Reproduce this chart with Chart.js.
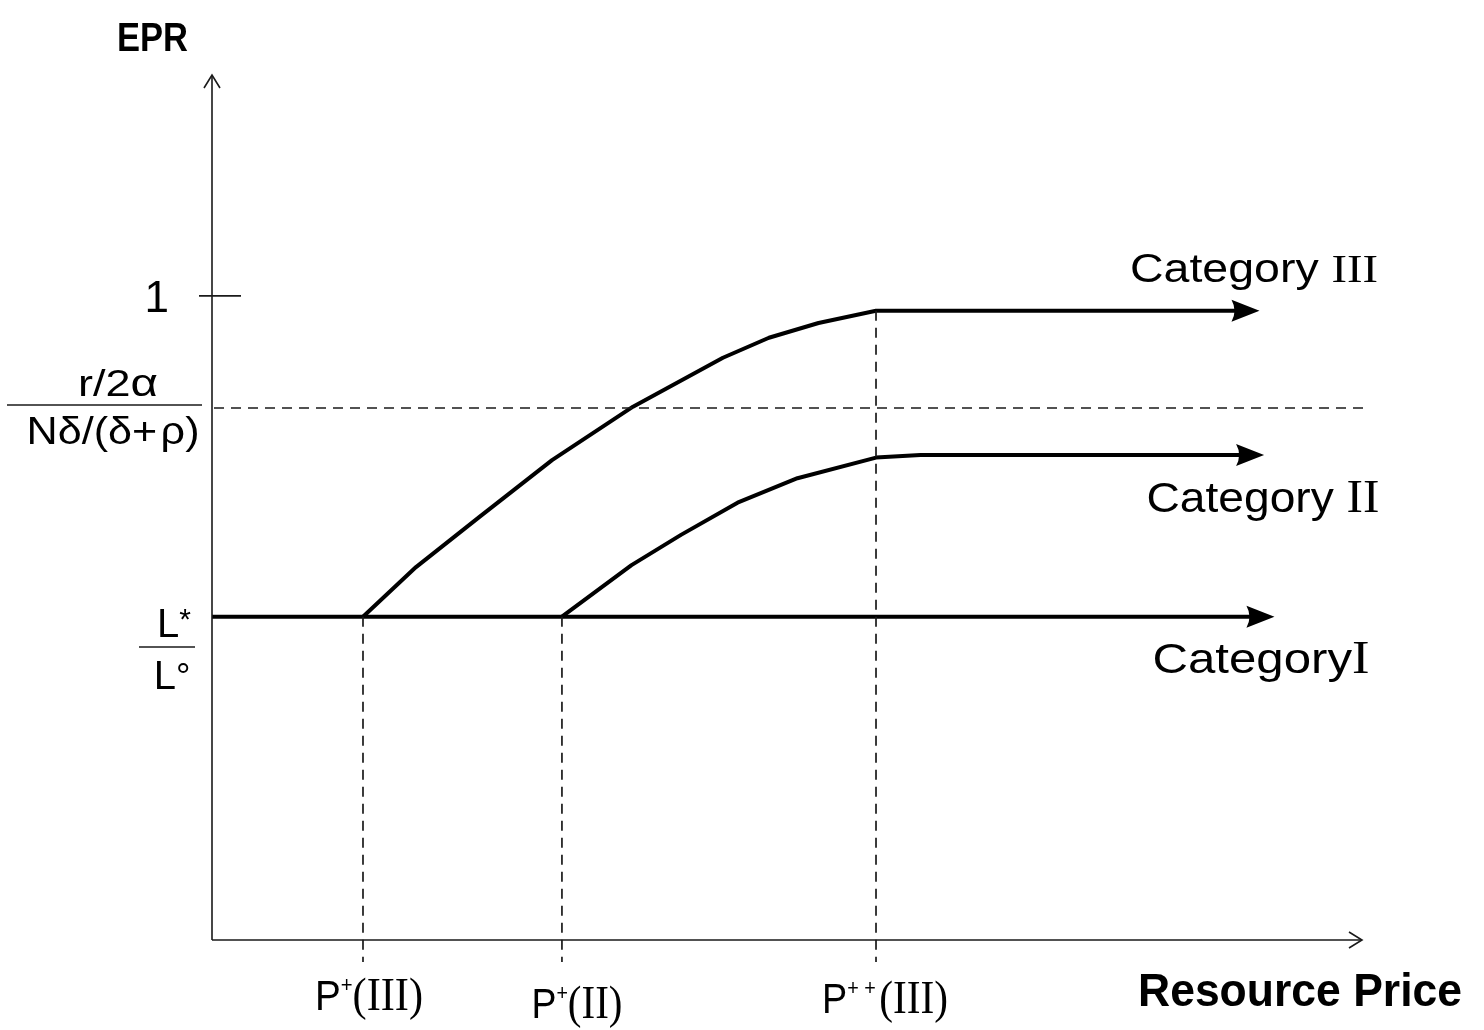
<!DOCTYPE html>
<html>
<head>
<meta charset="utf-8">
<script src="https://cdn.jsdelivr.net/npm/chart.js@4/dist/chart.umd.min.js"></script>
<style>
html,body{margin:0;padding:0;background:#fff;}
#wrap{width:1484px;height:1030px;position:relative;}
</style>
</head>
<body>
<div id="wrap"><canvas id="c" width="1484" height="1030"></canvas></div>
<script>
// ---- data (price units on x, EPR on y) ----
const cat3X = [1.313, 1.774, 2.326, 2.957, 3.661, 4.443, 4.843, 5.274, 5.774, 8.90];
const cat3Y = [0.502, 0.579, 0.657, 0.745, 0.828, 0.904, 0.935, 0.958, 0.977, 0.977];
const cat2X = [3.043, 3.648, 4.078, 4.570, 5.091, 5.774, 6.16, 8.94];
const cat2Y = [0.502, 0.582, 0.629, 0.679, 0.717, 0.749, 0.753, 0.753];
const cat1X = [0, 9.03];
const cat1Y = [0.502, 0.502];
const seriesNames = ['Category III', 'Category II', 'Category I'];
const xTickValues = [1.313, 3.043, 5.774];
const xTickLevels = [0.502, 0.502, 0.977];
const xTickLabels = ['P+(III)', 'P+(II)', 'P++(III)'];
const yOneValue = 1;
const yDashValue = 0.826;
const yLValue = 0.502;
const xMax = 10, yMax = 1.343;

function pts(xs, ys){ return xs.map((x,i)=>({x:x, y:ys[i]})); }

const SANS = "'Liberation Sans', Arial, sans-serif";
const SERIF = "'Liberation Serif', 'Times New Roman', serif";

// draw a run of differently styled text pieces; optional target width squeezes/stretches horizontally
function drawRich(ctx, parts, x, y, align, targetW){
  let w = 0;
  parts.forEach(p=>{ ctx.font = p.font; p.w = ctx.measureText(p.t).width; w += p.w + (p.gap||0); });
  const s = targetW ? targetW / w : 1;
  const tw = w * s;
  let left = align==='center' ? x - tw/2 : (align==='right' ? x - tw : x);
  ctx.save();
  ctx.translate(left, y); ctx.scale(s, 1);
  ctx.textAlign = 'left'; ctx.textBaseline = 'alphabetic';
  let cx = 0;
  parts.forEach(p=>{ ctx.font = p.font; ctx.fillText(p.t, cx, (p.dy||0)); cx += p.w + (p.gap||0); });
  ctx.restore();
}

const overlay = {
  id: 'overlay',
  afterDatasetsDraw(chart){
    const ctx = chart.ctx, xs = chart.scales.x, ys = chart.scales.y;
    const X = v=>xs.getPixelForValue(v), Y = v=>ys.getPixelForValue(v);
    const x0 = X(0), y0 = Y(0), xEnd = X(xMax), yTop = Y(yMax);
    ctx.save();
    ctx.strokeStyle = '#1a1a1a'; ctx.fillStyle = '#000';
    // axes
    ctx.lineWidth = 1.6;
    ctx.beginPath(); ctx.moveTo(x0, y0); ctx.lineTo(xEnd, y0); ctx.moveTo(x0, y0); ctx.lineTo(x0, yTop); ctx.stroke();
    ctx.beginPath(); ctx.moveTo(xEnd-13, y0-8); ctx.lineTo(xEnd, y0); ctx.lineTo(xEnd-13, y0+8); ctx.stroke();
    ctx.beginPath(); ctx.moveTo(x0-8, yTop+13); ctx.lineTo(x0, yTop); ctx.lineTo(x0+8, yTop+13); ctx.stroke();
    // tick at 1
    ctx.beginPath(); ctx.moveTo(x0-13, Y(yOneValue)); ctx.lineTo(x0+29, Y(yOneValue)); ctx.stroke();
    // dashed lines
    ctx.setLineDash([10,7]); ctx.lineWidth = 1.7;
    ctx.beginPath(); ctx.moveTo(x0+2, Y(yDashValue)); ctx.lineTo(X(10.03), Y(yDashValue)); ctx.stroke();
    xTickValues.forEach((v,i)=>{
      ctx.beginPath(); ctx.moveTo(X(v), Y(xTickLevels[i])); ctx.lineTo(X(v), y0+22); ctx.stroke();
    });
    ctx.setLineDash([]);
    // arrowheads
    chart.data.datasets.forEach(ds=>{
      const last = ds.data[ds.data.length-1];
      const px = X(last.x), py = Y(last.y);
      ctx.beginPath(); ctx.moveTo(px-4, py-11); ctx.lineTo(px+24, py); ctx.lineTo(px-4, py+11); ctx.quadraticCurveTo(px+2, py, px-4, py-11); ctx.closePath(); ctx.fill();
    });
    // axis titles
    ctx.fillStyle = '#000';
    drawRich(ctx, [{t:'EPR', font:"bold 41px "+SANS}], 117, 51, 'left', 71);
    drawRich(ctx, [{t:'Resource Price', font:"bold 46px "+SANS}], 1462, 1006, 'right', 324);
    // y labels
    ctx.font = "44px " + SANS; ctx.textAlign='right';
    ctx.fillText('1', 169, 312);
    drawRich(ctx, [{t:'r/2', font:"36px "+SANS},{t:'\u03b1', font:"38px "+SANS}], 118, 396, 'center', 80);
    drawRich(ctx, [{t:'N\u03b4/(\u03b4', font:"38px "+SANS},{t:'+', font:"38px "+SANS, gap:3},{t:'\u03c1)', font:"38px "+SANS}], 113, 444, 'center', 173);
    ctx.lineWidth = 1.5; ctx.strokeStyle='#1a1a1a';
    ctx.beginPath(); ctx.moveTo(7, 405); ctx.lineTo(202, 405); ctx.stroke();
    drawRich(ctx, [{t:'L', font:"40px "+SANS},{t:'*', font:"30px "+SANS, dy:-8}], 174, 637, 'center');
    ctx.beginPath(); ctx.moveTo(139, 647); ctx.lineTo(195, 647); ctx.stroke();
    drawRich(ctx, [{t:'L', font:"40px "+SANS},{t:'\u00b0', font:"36px "+SANS, dy:0}], 172, 689, 'center');
    // x tick labels
    const xl = [
      [{t:'P', font:"42px "+SANS},{t:'+', font:"22px "+SANS, dy:-18},{t:'(III)', font:"46px "+SERIF}],
      [{t:'P', font:"42px "+SANS},{t:'+', font:"22px "+SANS, dy:-18},{t:'(II)', font:"46px "+SERIF}],
      [{t:'P', font:"42px "+SANS},{t:'+ +', font:"22px "+SANS, dy:-18, gap:4},{t:'(III)', font:"46px "+SERIF}]
    ];
    const xlOff = [6, 15, 9], xlBase = [1010, 1018, 1013], xlW = [108, 91, 126];
    xTickValues.forEach((v,i)=>{ drawRich(ctx, xl[i], X(v)+xlOff[i], xlBase[i], 'center', xlW[i]); });
    // series labels
    drawRich(ctx, [{t:'Category ', font:"40px "+SANS},{t:'III', font:"40px "+SERIF}], 1254, 282, 'center', 248);
    drawRich(ctx, [{t:'Category ', font:"43px "+SANS},{t:'II', font:"46px "+SERIF}], 1263, 512, 'center', 233);
    drawRich(ctx, [{t:'Category', font:"43px "+SANS},{t:'I', font:"46px "+SERIF, gap:0}], 1261, 673, 'center', 217);
    ctx.restore();
  }
};

new Chart(document.getElementById('c'), {
  type: 'scatter',
  data: {
    datasets: [
      {label: seriesNames[0], data: pts(cat3X, cat3Y)},
      {label: seriesNames[1], data: pts(cat2X, cat2Y)},
      {label: seriesNames[2], data: pts(cat1X, cat1Y)}
    ].map(d=>Object.assign(d, {showLine:true, borderColor:'#000', backgroundColor:'#000', borderWidth:4, pointRadius:0, tension:0, borderJoinStyle:'round', borderCapStyle:'butt'}))
  },
  options: {
    responsive: false, animation: false, maintainAspectRatio: false,
    layout: {padding: {left: 212, right: 122, top: 75, bottom: 90}},
    scales: {
      x: {type:'linear', min:0, max:xMax, display:false},
      y: {type:'linear', min:0, max:yMax, display:false}
    },
    plugins: {legend:{display:false}, tooltip:{enabled:false}}
  },
  plugins: [overlay]
});
</script>
</body>
</html>
